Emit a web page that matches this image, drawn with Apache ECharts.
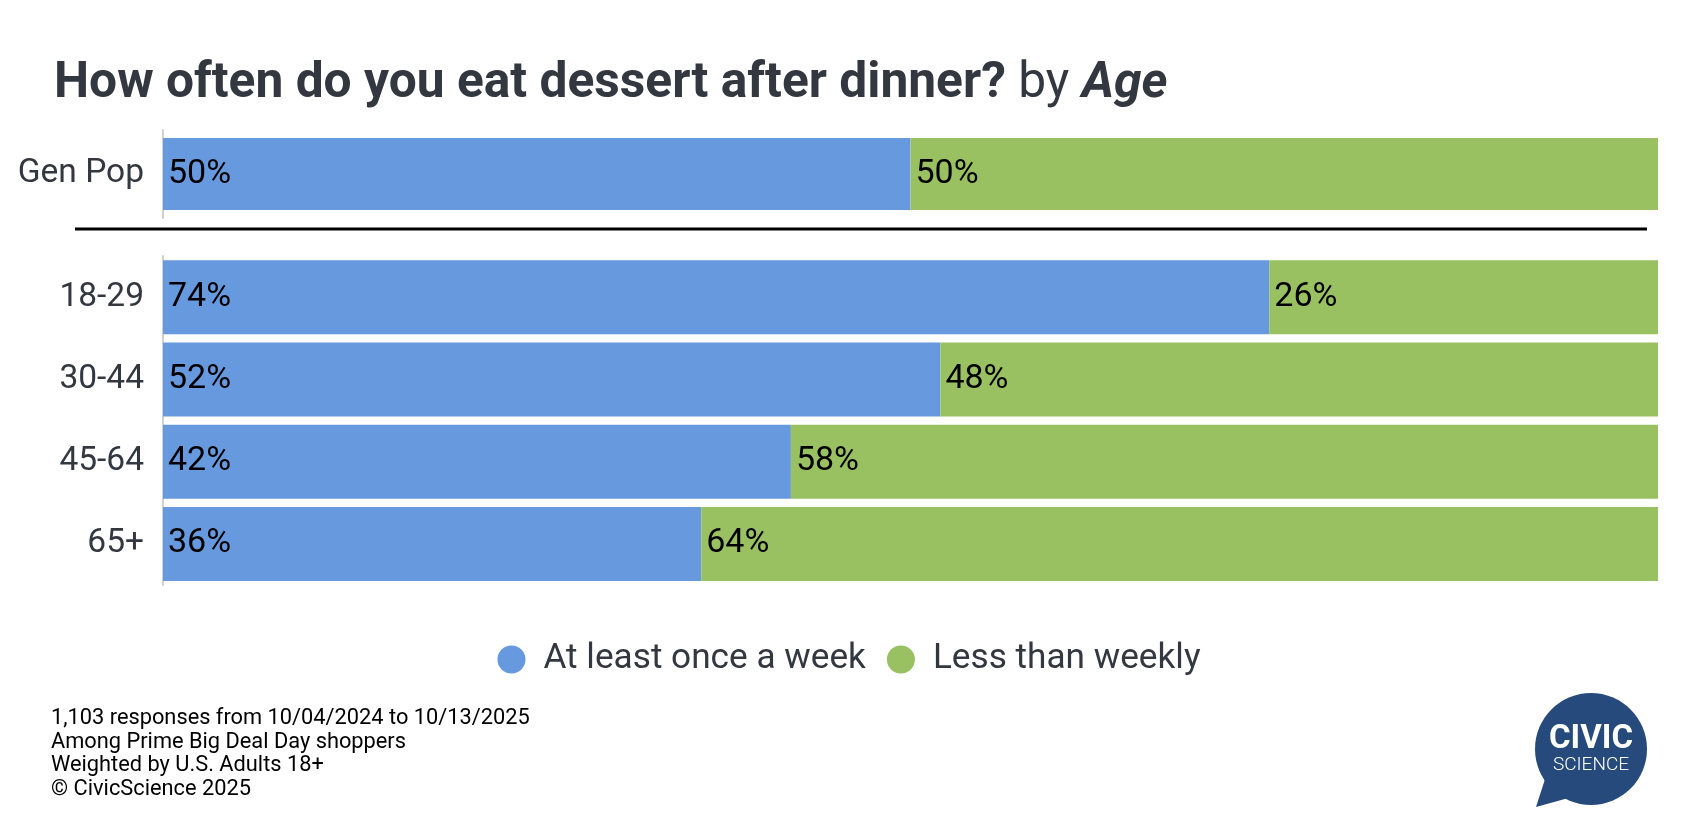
<!DOCTYPE html>
<html>
<head>
<meta charset="utf-8">
<script src="https://cdn.jsdelivr.net/npm/echarts@6/dist/echarts.min.js"></script>
<style>
html,body{margin:0;padding:0;background:#fff;}
#main{width:1698px;height:840px;}
</style>
</head>
<body>
<div id="main"></div>
<script>
// ---- data ----
const seriesNames = ['At least once a week', 'Less than weekly'];
const topCategories = ['Gen Pop'];
const topWeekly = [50];
const topLess = [50];
const ageCategories = ['18-29', '30-44', '45-64', '65+'];
const ageWeekly = [74, 52, 42, 36];
const ageLess = [26, 48, 58, 64];
const footerLines = [
  '1,103 responses from 10/04/2024 to 10/13/2025',
  'Among Prime Big Deal Day shoppers',
  'Weighted by U.S. Adults 18+',
  '\u00A9 CivicScience 2025'
];

const BLUE = '#6699DD';
const GREEN = '#99C162';
const TEXT = '#333740';
const FONT = 'Roboto';

const chart = echarts.init(document.getElementById('main'), null, {renderer: 'canvas', width: 1698, height: 840});

function barLabel() {
  return {
    show: true, position: 'insideLeft', distance: 5,
    formatter: '{c}%', color: '#000', fontSize: 34, fontFamily: FONT
  };
}
function catAxis(gridIndex, data) {
  return {
    type: 'category', gridIndex: gridIndex, data: data, inverse: true,
    axisLine: {show: true, lineStyle: {color: '#d0d0d0', width: 2}},
    axisTick: {show: false},
    axisLabel: {color: TEXT, fontSize: 33.5, fontFamily: FONT, margin: 19}
  };
}
function valAxis(gridIndex) {
  return {
    type: 'value', gridIndex: gridIndex, min: 0, max: 100, interval: 20,
    show: false, splitLine: {show: false}
  };
}

const option = {
  backgroundColor: '#fff',
  animation: false,
  textStyle: {fontFamily: FONT},
  title: {
    left: 54, top: 60, padding: 0,
    text: '{b|How often do you eat dessert after dinner?}{n| by }{i|Age}',
    textStyle: {
      rich: {
        b: {fontSize: 49.7, fontWeight: 'bold', color: TEXT, fontFamily: FONT},
        n: {fontSize: 49.7, fontWeight: 'normal', color: TEXT, fontFamily: FONT},
        i: {fontSize: 49.7, fontWeight: 'bold', fontStyle: 'italic', color: TEXT, fontFamily: FONT}
      }
    }
  },
  legend: {
    data: seriesNames,
    left: 'center', top: 637,
    icon: 'circle', itemWidth: 28, itemHeight: 28, itemGap: 21,
    textStyle: {fontSize: 35.2, color: TEXT, fontFamily: FONT, padding: [0, 0, 0, 13]}
  },
  grid: [
    {left: 163, right: 40, top: 130, height: 88},
    {left: 163, right: 40, top: 256, height: 329}
  ],
  xAxis: [valAxis(0), valAxis(1)],
  yAxis: [catAxis(0, topCategories), catAxis(1, ageCategories)],
  series: [
    {name: seriesNames[0], type: 'bar', stack: 't', xAxisIndex: 0, yAxisIndex: 0, data: topWeekly,
     barWidth: 72, itemStyle: {color: BLUE}, label: barLabel()},
    {name: seriesNames[1], type: 'bar', stack: 't', xAxisIndex: 0, yAxisIndex: 0, data: topLess,
     barWidth: 72, itemStyle: {color: GREEN}, label: barLabel()},
    {name: seriesNames[0], type: 'bar', stack: 'a', xAxisIndex: 1, yAxisIndex: 1, data: ageWeekly,
     barWidth: 74, itemStyle: {color: BLUE}, label: barLabel()},
    {name: seriesNames[1], type: 'bar', stack: 'a', xAxisIndex: 1, yAxisIndex: 1, data: ageLess,
     barWidth: 74, itemStyle: {color: GREEN}, label: barLabel()}
  ],
  graphic: [
    {type: 'line', shape: {x1: 75, y1: 229, x2: 1647, y2: 229}, style: {stroke: '#000', lineWidth: 3}, silent: true},
    {
      type: 'group', left: 51, top: 708,
      children: footerLines.map(function (t, i) {
        return {type: 'text', x: 0, y: i * 23.5,
          style: {text: t, fontSize: 21.8, fontFamily: FONT, fill: '#000'}};
      })
    },
    {
      type: 'group', silent: true,
      children: [
        {type: 'polygon', shape: {points: [[1546, 776], [1536, 807], [1572, 797]]}, style: {fill: '#264A7B'}},
        {type: 'circle', shape: {cx: 1591, cy: 749, r: 56}, style: {fill: '#264A7B'}},
        {type: 'text', x: 1591, y: 740, style: {text: 'CIVIC', fontSize: 33, fontWeight: 'bold', fontFamily: FONT, fill: '#fff', align: 'center', verticalAlign: 'middle'}},
        {type: 'text', x: 1591, y: 765, style: {text: 'SCIENCE', fontSize: 19, fontWeight: 300, fontFamily: FONT, fill: '#fff', align: 'center', verticalAlign: 'middle'}}
      ]
    }
  ]
};
chart.setOption(option);
</script>
</body>
</html>
